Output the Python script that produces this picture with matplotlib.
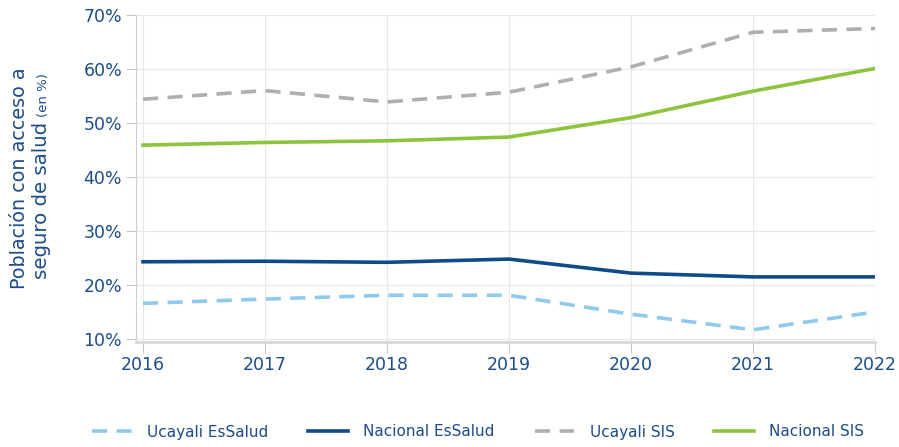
import matplotlib
matplotlib.use("Agg")
import matplotlib.pyplot as plt
from matplotlib.ticker import FuncFormatter

years = [2016, 2017, 2018, 2019, 2020, 2021, 2022]
ucayali_essalud = [16.6, 17.4, 18.1, 18.1, 14.6, 11.7, 15.0]
nacional_essalud = [24.3, 24.4, 24.2, 24.8, 22.2, 21.5, 21.5]
ucayali_sis = [54.4, 56.0, 53.9, 55.7, 60.4, 66.8, 67.5]
nacional_sis = [45.9, 46.4, 46.7, 47.4, 51.0, 55.9, 60.1]
yticks = [10, 20, 30, 40, 50, 60, 70]

TXT = "#1b4c8c"
plt.rcParams['font.family'] = ['DejaVu Sans']

fig = plt.figure(figsize=(8.99, 4.47), dpi=100)
ax = fig.add_axes([136/899, 1-342.3/447, (875-136)/899, (342.3-15)/447])

dash = (0, (4.2, 2.6))
ax.plot(years, ucayali_essalud, color="#8ec9ee", lw=2.6, ls=dash, label="Ucayali EsSalud")
ax.plot(years, nacional_essalud, color="#0f4a8a", lw=2.6, label="Nacional EsSalud")
ax.plot(years, ucayali_sis, color="#b3adad", lw=2.6, ls=dash, label="Ucayali SIS")
ax.plot(years, nacional_sis, color="#8cc43c", lw=2.6, label="Nacional SIS")

ax.set_xlim(2016 - 7/122, 2022)
ax.set_ylim(10 - 3.3/5.4, 70)
ax.set_xticks(years)
ax.set_yticks(yticks)
ax.yaxis.set_major_formatter(FuncFormatter(lambda v, p: f"{int(v)}%"))
ax.grid(True, color="#e8e8e8", lw=0.9)
ax.set_axisbelow(True)
for s in ['top', 'right']:
    ax.spines[s].set_visible(False)
ax.spines['left'].set_color("#d0d0d0")
ax.spines['bottom'].set_color("#d8d8d8")
ax.spines['bottom'].set_linewidth(2)
ax.tick_params(axis='y', length=7, color="#c8c8c8", labelcolor=TXT, labelsize=12.5, pad=3)
ax.tick_params(axis='x', length=8, color="#c8c8c8", labelcolor=TXT, labelsize=12.5, pad=2)

# y label
fig.text(20/899, 1-178/447, "Población con acceso a", rotation=90, color=TXT,
         fontsize=13.8, ha='center', va='center', rotation_mode='anchor')
fig.text(42/899, 1-122/447, "seguro de salud", rotation=90, color=TXT,
         fontsize=14.2, ha='right', va='center', rotation_mode='anchor')
fig.text(43/899, 1-117/447, "(en %)", rotation=90, color=TXT,
         fontsize=9.5, ha='left', va='center', rotation_mode='anchor')

leg = fig.legend(loc='center', bbox_to_anchor=(0.532, 1-432/447), ncol=4, frameon=False,
                 fontsize=11, handlelength=2.6, handletextpad=1.0, columnspacing=2.6)
for t in leg.get_texts():
    t.set_color(TXT)

fig.savefig("out.png", dpi=100)
